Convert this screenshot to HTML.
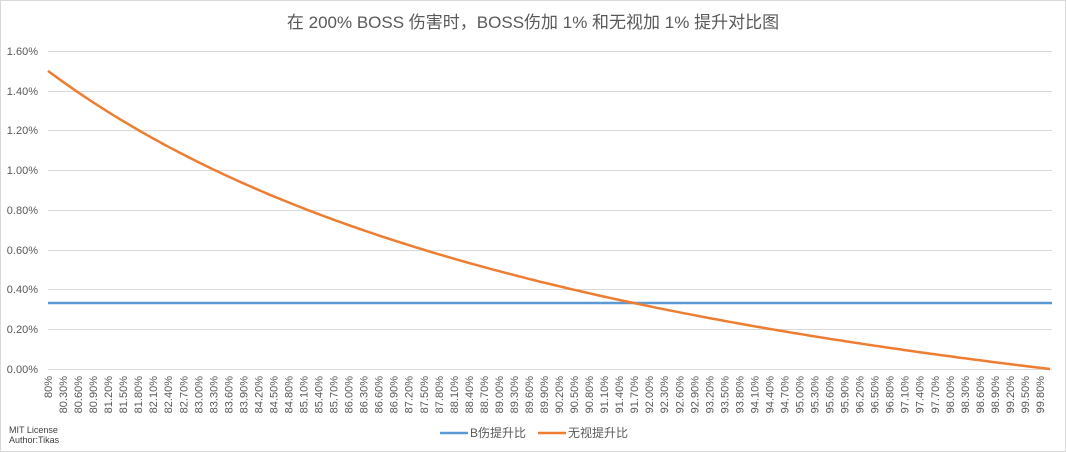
<!DOCTYPE html>
<html><head><meta charset="utf-8"><style>
html,body{margin:0;padding:0;background:#fff;}
svg{display:block;font-family:"Liberation Sans","Noto Sans CJK SC",sans-serif;}
</style></head><body>
<svg id="s" width="1066" height="452" xmlns="http://www.w3.org/2000/svg">
<rect x="0.5" y="0.5" width="1065" height="451" fill="#fff" stroke="#d9d9d9"/>
<text x="533" y="28" text-anchor="middle" font-size="17" fill="#595959">在 200% BOSS 伤害时，BOSS伤加 1% 和无视加 1% 提升对比图</text>
<g stroke="#d9d9d9" stroke-width="1">
<line x1="48" x2="1052" y1="51.5" y2="51.5"/><line x1="48" x2="1052" y1="91.5" y2="91.5"/>
<line x1="48" x2="1052" y1="130.5" y2="130.5"/><line x1="48" x2="1052" y1="170.5" y2="170.5"/>
<line x1="48" x2="1052" y1="210.5" y2="210.5"/><line x1="48" x2="1052" y1="250.5" y2="250.5"/>
<line x1="48" x2="1052" y1="289.5" y2="289.5"/><line x1="48" x2="1052" y1="329.5" y2="329.5"/>
<line x1="48" x2="1052" y1="369.5" y2="369.5"/>
</g>
<g font-size="11" fill="#595959" text-anchor="end">
<text x="38" y="55">1.60%</text><text x="38" y="95">1.40%</text><text x="38" y="134">1.20%</text>
<text x="38" y="174">1.00%</text><text x="38" y="214">0.80%</text><text x="38" y="254">0.60%</text>
<text x="38" y="293">0.40%</text><text x="38" y="333">0.20%</text><text x="38" y="373">0.00%</text>
</g>
<g id="xl" font-size="11" fill="#595959" text-anchor="end"></g>
<path id="pb" fill="none" stroke="#5b9bd5" stroke-width="2.5"/>
<path id="po" fill="none" stroke="#ed7d31" stroke-width="2.5"/>
<line x1="440" x2="468" y1="433" y2="433" stroke="#5b9bd5" stroke-width="2.5"/>
<text x="470" y="437" font-size="12" fill="#595959">B伤提升比</text>
<line x1="538" x2="566" y1="433" y2="433" stroke="#ed7d31" stroke-width="2.5"/>
<text x="568" y="437" font-size="12" fill="#595959">无视提升比</text>
<text x="9" y="433" font-size="9" fill="#404040">MIT License</text>
<text x="9" y="443" font-size="9" fill="#404040">Author:Tikas</text>
</svg>
<script>
var labs=["80%","80.30%","80.60%","80.90%","81.20%","81.50%","81.80%","82.10%","82.40%","82.70%","83.00%","83.30%","83.60%","83.90%","84.20%","84.50%","84.80%","85.10%","85.40%","85.70%","86.00%","86.30%","86.60%","86.90%","87.20%","87.50%","87.80%","88.10%","88.40%","88.70%","89.00%","89.30%","89.60%","89.90%","90.20%","90.50%","90.80%","91.10%","91.40%","91.70%","92.00%","92.30%","92.60%","92.90%","93.20%","93.50%","93.80%","94.10%","94.40%","94.70%","95.00%","95.30%","95.60%","95.90%","96.20%","96.50%","96.80%","97.10%","97.40%","97.70%","98.00%","98.30%","98.60%","98.90%","99.20%","99.50%","99.80%"];
var g=document.getElementById("xl"),h="";
function X(v){return 48+(v-80)/20*1002;}
function Y(p){return 369-p/1.6*318;}
labs.forEach(function(t,k){var x=X(80+0.3*k)+4;h+='<text transform="translate('+x.toFixed(1)+',376) rotate(-90)">'+t+'</text>';});
g.innerHTML=h;
var o="",b="";
for(var i=0;i<=200;i++){var d=0.8+i*0.001;var r=1-d;var a=1-3*r,c=1-3*r*0.99;var p=(c/a-1)*100;
o+=(i?"L":"M")+X(d*100).toFixed(1)+","+Y(p).toFixed(1);}
document.getElementById("po").setAttribute("d",o);
document.getElementById("pb").setAttribute("d","M48,"+Y(1/3.01).toFixed(1)+"L1052,"+Y(1/3.01).toFixed(1));
</script>
</body></html>
